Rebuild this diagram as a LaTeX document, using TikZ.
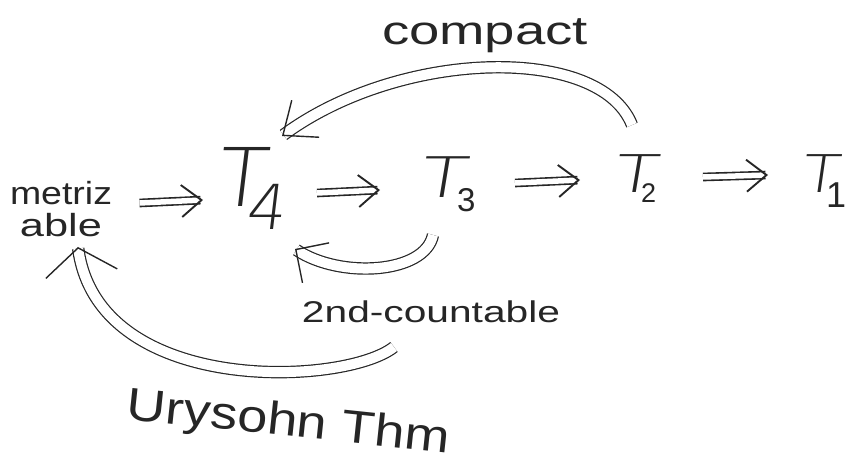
\documentclass[tikz,border=0pt]{standalone}
\usepackage{fontspec}
\setmainfont{Liberation Sans}
\newfontfamily\Tfont[FakeSlant=0.12]{DejaVuSans-ExtraLight.ttf}
\usetikzlibrary{arrows.meta}
\definecolor{ink}{HTML}{262626}
% T with subscript: #1 T size, #2 T width, #3 digit, #4 digit size, #5 kern, #6 raise
\newcommand\Tsym[6]{{\Tfont\fontsize{#1}{#1}\selectfont\resizebox{#2}{\height}{T}}\kern#5\raisebox{#6}{\fontsize{#4}{#4}\selectfont #3}}
\newcommand\fitw[2]{\resizebox{#1}{\height}{#2}}
\begin{document}
\begin{tikzpicture}[x=1pt,y=1pt,
  every node/.style={inner sep=0pt, outer sep=0pt, text=ink},
  imp/.style={draw=ink, line width=1.6pt, double=white, double distance=5.5pt,
    -{Straight Barb[length=20pt, width=32pt, line width=1.9pt]}},
  arcline/.style={draw=ink, line width=1.2pt, double=white, double distance=10pt},
  lbl/.style={anchor=base}]
\useasboundingbox (0,0) rectangle (847,464);
% nodes
\node[align=center, font=\fontsize{32}{32}\selectfont] (metriz) at (61,254.5)
  {\fitw{102pt}{metriz}\\\fitw{82pt}{able}};
\node[anchor=base west] (T4) at (215,257) {\Tsym{81}{50pt}{\Tfont 4}{62}{-20pt}{-23pt}};
\node[anchor=base west] (T3) at (418,266) {\Tsym{56}{47pt}{3}{33}{-8pt}{-14pt}};
\node[anchor=base west] (T2) at (612,271) {\Tsym{52}{44pt}{2}{27}{-15pt}{-10pt}};
\node[anchor=base west] (T1) at (800,271) {\Tsym{52}{38pt}{1}{36}{-12pt}{-15pt}};
\node[lbl, font=\fontsize{40}{40}\selectfont] (compact) at (485,419) {\fitw{206pt}{compact}};
\node[lbl, font=\fontsize{30}{30}\selectfont] (countable) at (431,141) {\fitw{258pt}{2nd-countable}};
\node[lbl, rotate=-6, font=\fontsize{46}{46}\selectfont] (urysohn) at (287,28) {\fitw{325pt}{Urysohn Thm}};
% implications
\draw[imp] ([shift={(27.5,6.5)}]metriz.east) -- ([shift={(-12,7)}]T4.base west);
\draw[imp] ([shift={(102,14)}]T4.base west) -- ([shift={(-38,8)}]T3.base west);
\draw[imp] ([shift={(97,15)}]T3.base west) -- ([shift={(-32,13)}]T2.base west);
\draw[imp] ([shift={(91,16)}]T2.base west) -- ([shift={(-32,18)}]T1.base west);
% curved arrows
\draw[arcline, -{Straight Barb[length=28pt, width=46pt, line width=1.4pt]}]
  ([shift={(20,68)}]T2.base west) .. controls +(-32,81) and +(118,87) .. ([shift={(67,71)}]T4.base west);
\draw[arcline, -{Straight Barb[length=24pt, width=48pt, line width=1.4pt]}]
  ([shift={(15,-37)}]T3.base west) .. controls +(-8,-39) and +(45,-30) .. ([shift={(80,-42)}]T4.base west);
\draw[arcline, -{Straight Barb[length=26pt, width=72pt, line width=1.4pt]}]
  ([shift={(-37,-24)}]countable.base) .. controls +(-49,-39) and +(20,-150) .. ([shift={(17,-37.5)}]metriz.center);
\end{tikzpicture}
\end{document}
